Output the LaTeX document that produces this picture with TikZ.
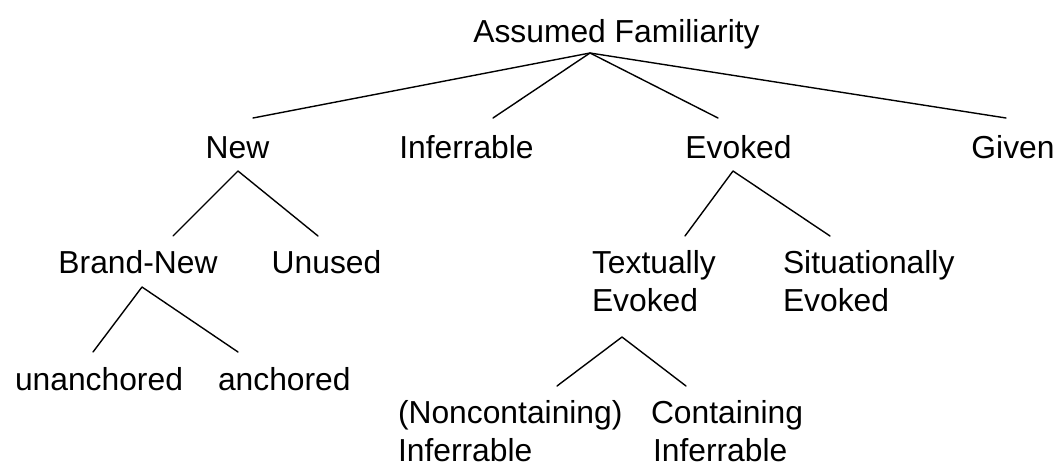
\documentclass[tikz,border=0pt]{standalone}
\usepackage{fontspec}
\setmainfont{Liberation Sans}
\begin{document}
\begin{tikzpicture}[x=1pt,y=-1pt,
  lbl/.style={anchor=base,inner sep=0pt,outer sep=0pt,
    font=\fontsize{31.8}{37.5}\selectfont},
  lbll/.style={lbl,anchor=base west,align=left},
  branch/.style={line width=1.4pt,line cap=round,line join=round}]
\useasboundingbox (0,0) rectangle (1058,466);

% labels (two-line labels are placed by the baseline of their last line)
\node[lbl]  (af)   at (616.5,42.5) {Assumed Familiarity};
\node[lbl]  (new)  at (237.5,158)  {New};
\node[lbl]  (inf)  at (466.5,158)  {Inferrable};
\node[lbl]  (evk)  at (738.5,158)  {Evoked};
\node[lbl]  (giv)  at (1013,158)   {Given};
\node[lbl]  (bnew) at (138,273)    {Brand-New};
\node[lbl]  (unu)  at (326.5,273)  {Unused};
\node[lbll] (tev)  at (592,311)    {Textually\\Evoked};
\node[lbll] (sev)  at (783,311)    {Situationally\\Evoked};
\node[lbll] (una)  at (15,390)     {unanchored};
\node[lbll] (anc)  at (218,390)    {anchored};
\node[lbll] (nci)  at (398,461)    {(Noncontaining)\\Inferrable};
\node[lbll] (ci)   at (651,461)    {Containing\\\hspace{2pt}Inferrable};

% branch points
\coordinate (af-j)   at (590,53);
\coordinate (new-l)  at (253,118);
\coordinate (inf-t)  at (493,118);
\coordinate (evk-t)  at (718,118);
\coordinate (giv-t)  at (1006,118);
\coordinate (new-j)  at (238,171);
\coordinate (bnew-t) at (173,236);
\coordinate (unu-t)  at (318,236);
\coordinate (evk-j)  at (733,171);
\coordinate (tev-t)  at (685,236);
\coordinate (sev-t)  at (830,236);
\coordinate (bnew-j) at (142,287);
\coordinate (una-t)  at (93,352);
\coordinate (anc-t)  at (238,352);
\coordinate (tev-j)  at (622,337);
\coordinate (nci-t)  at (557,386);
\coordinate (ci-t)   at (686,386);

\draw[branch] (new-l) -- (af-j) -- (giv-t);
\draw[branch] (inf-t) -- (af-j) -- (evk-t);
\draw[branch] (bnew-t) -- (new-j) -- (unu-t);
\draw[branch] (tev-t) -- (evk-j) -- (sev-t);
\draw[branch] (una-t) -- (bnew-j) -- (anc-t);
\draw[branch] (nci-t) -- (tev-j) -- (ci-t);
\end{tikzpicture}
\end{document}
